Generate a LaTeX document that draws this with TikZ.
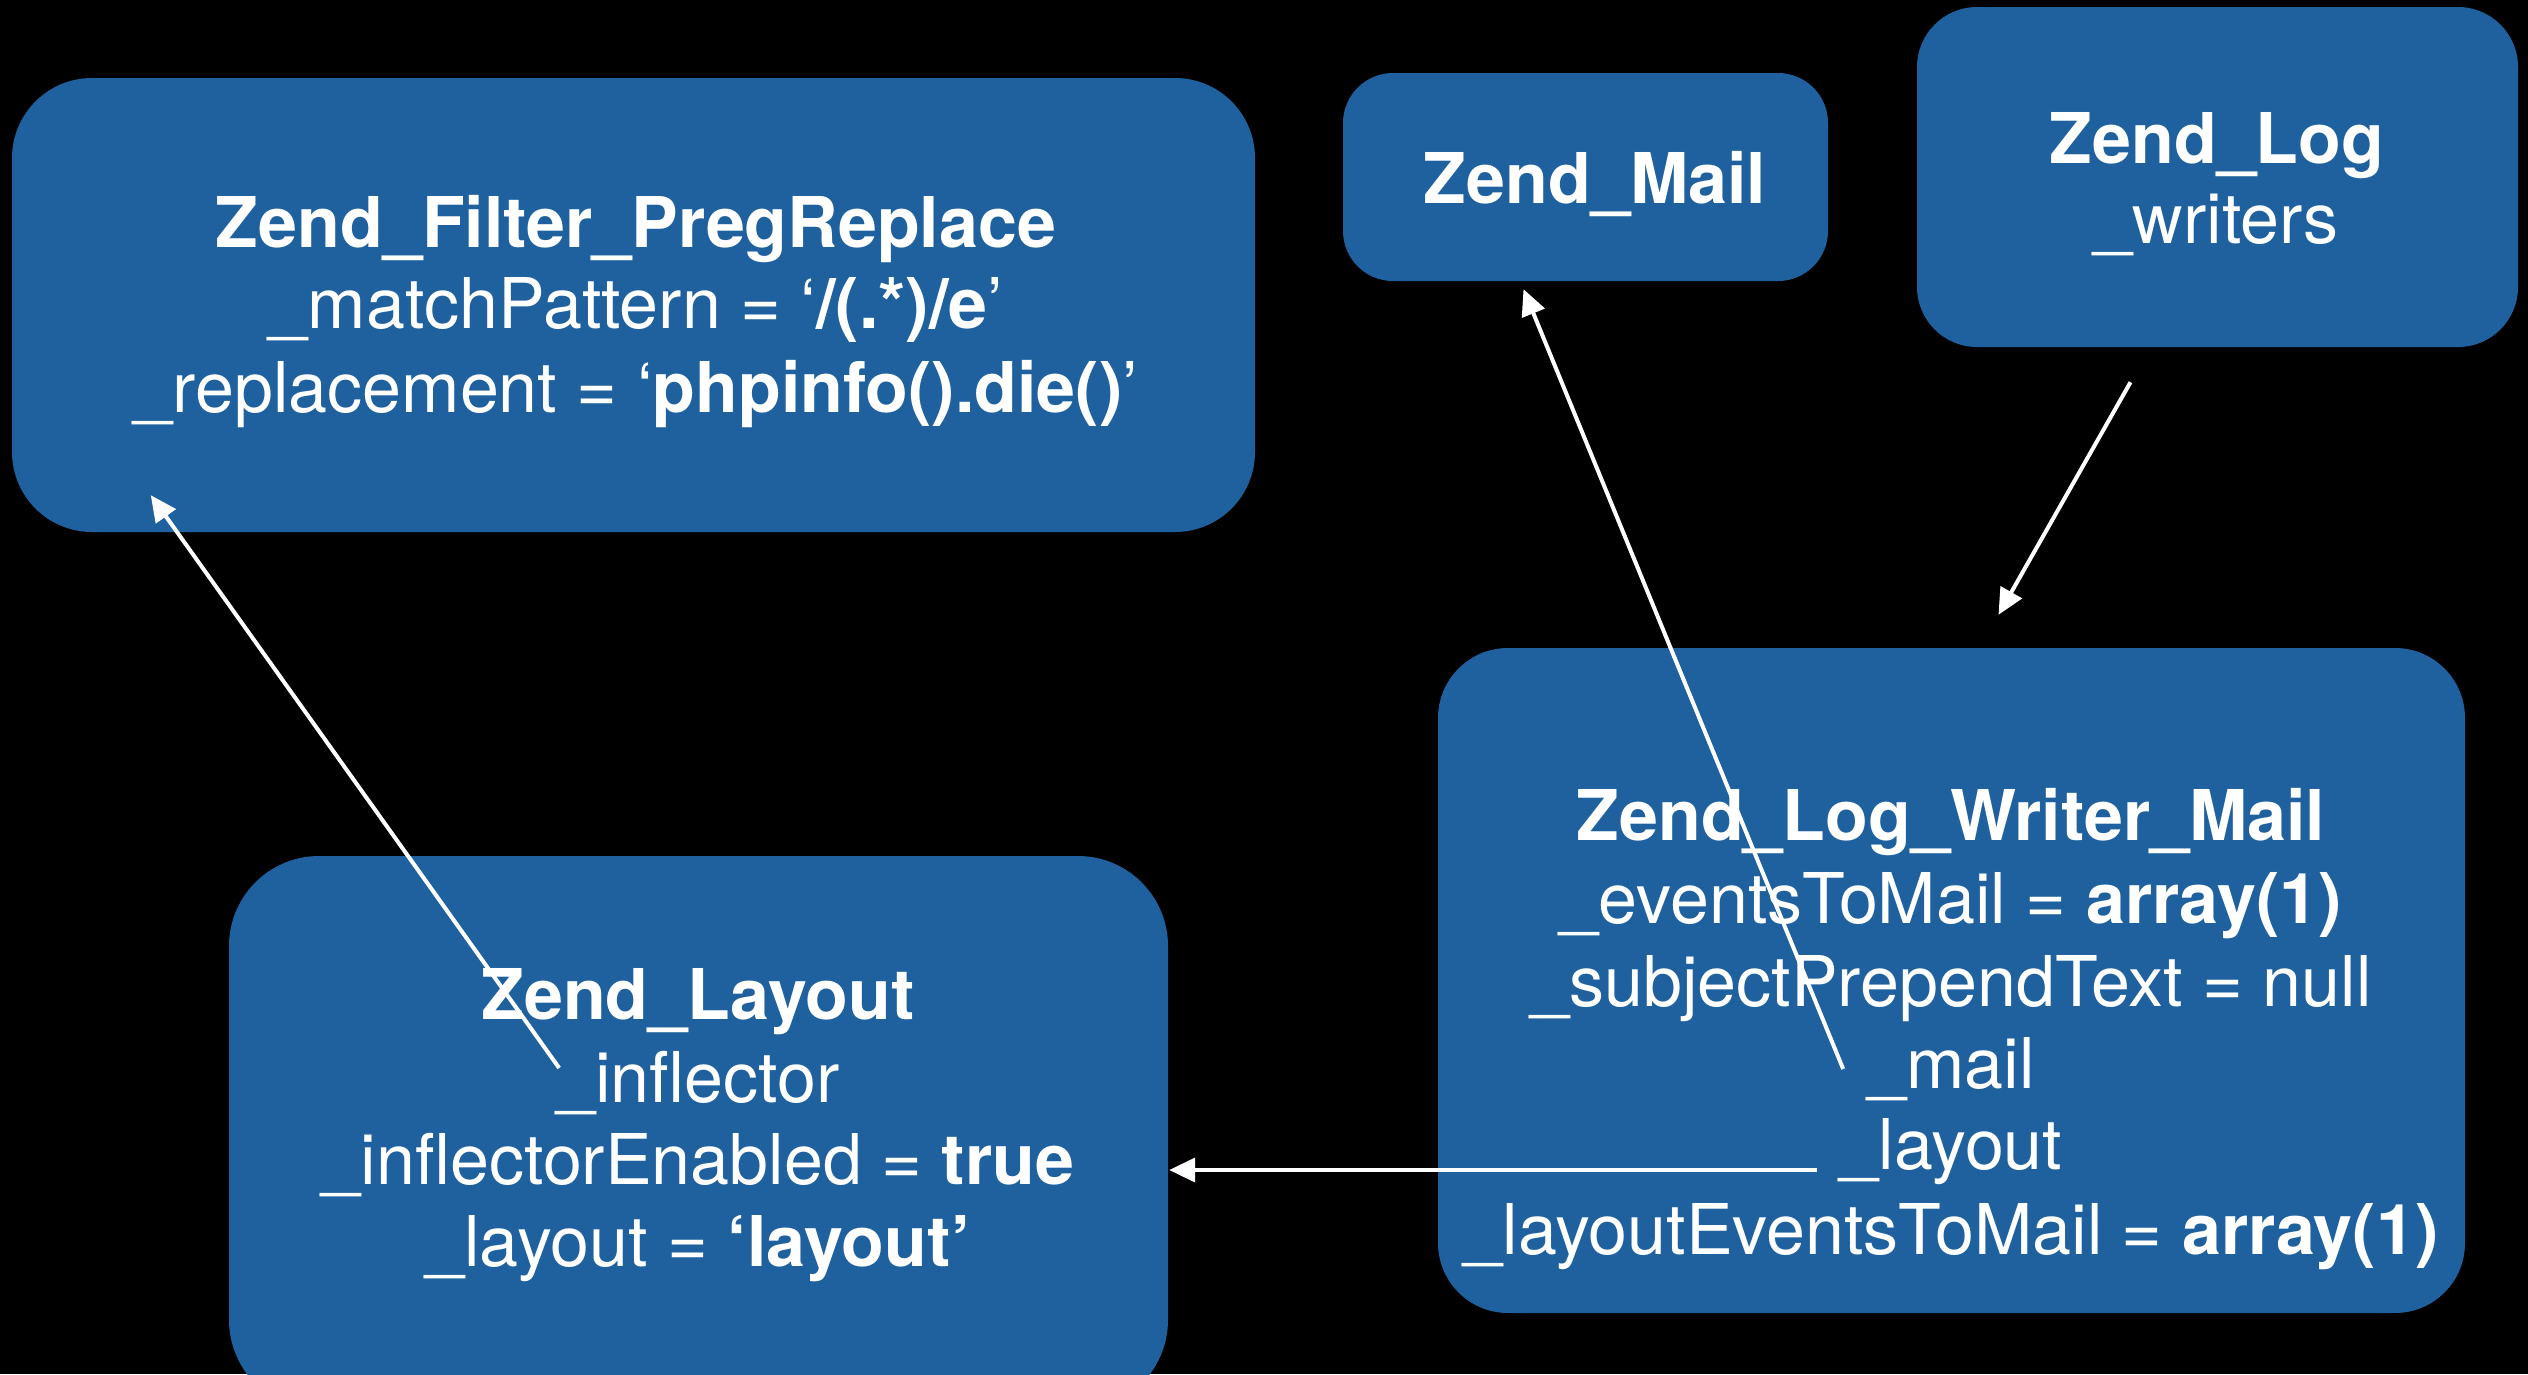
\documentclass[tikz,border=0pt]{standalone}
\usepackage{fontspec}
\setmainfont{TeX Gyre Heros}
\usetikzlibrary{arrows.meta,calc}
\definecolor{boxblue}{RGB}{30,97,158}
\begin{document}
\begin{tikzpicture}[x=1pt,y=-1pt,
  box/.style={fill=boxblue, draw=none, inner sep=0pt},
  txt/.style={text=white, inner sep=0pt, anchor=base,
    font=\fontsize{70}{84}\selectfont},
  ttl/.style={txt, font=\fontsize{70}{84}\selectfont\bfseries},
  conn/.style={draw=white, line width=4pt,
    -{Triangle[length=26pt,width=24pt]}}]
% canvas
\useasboundingbox (0,0) rectangle (2528,1374);
\fill[black] (0,0) rectangle (2528,1374);
\clip (0,0) rectangle (2528,1374);

% class boxes
\node[box, rounded corners=80pt, minimum width=1243pt, minimum height=454pt]
  (filter) at (633.5,305) {};
\node[box, rounded corners=50pt, minimum width=485pt, minimum height=208pt]
  (zmail) at (1585.5,177) {};
\node[box, rounded corners=60pt, minimum width=601pt, minimum height=340pt]
  (zlog) at (2217.5,177) {};
\node[box, rounded corners=70pt, minimum width=1027pt, minimum height=665pt]
  (wm) at (1951.5,980.5) {};
\node[box, rounded corners=90pt, minimum width=939pt, minimum height=554pt]
  (layout) at (698.5,1133) {};

% Zend_Filter_PregReplace
\node[ttl] (filter-t) at (636,247) {Zend\_Filter\_PregReplace};
\node[txt] (filter-a1) at (636,328) {\_matchPattern = ‘\textbf{/(.*)/e}’};
\node[txt] (filter-a2) at (636,412) {\_replacement = ‘\textbf{phpinfo().die()}’};

% Zend_Mail
\node[ttl] (zmail-t) at (1595,203) {Zend\_Mail};

% Zend_Log
\node[ttl] (zlog-t) at (2217,163) {Zend\_Log};
\node[txt] (zlog-a1) at (2216,243) {\_writers};

% Zend_Log_Writer_Mail
\node[ttl] (wm-t) at (1951,840) {Zend\_Log\_Writer\_Mail};
\node[txt] (wm-a1) at (1951,923) {\_eventsToMail = \textbf{array(1)}};
\node[txt] (wm-a2) at (1951,1006) {\_subjectPrependText = null};
\node[txt] (wm-mail) at (1951,1088) {\_mail};
\node[txt] (wm-layout) at (1951,1169) {\_layout};
\node[txt] (wm-a5) at (1951,1254) {\_layoutEventsToMail = \textbf{array(1)}};

% Zend_Layout
\node[ttl] (layout-t) at (698,1019) {Zend\_Layout};
\node[txt] (layout-infl) at (698,1102) {\_inflector};
\node[txt] (layout-a2) at (698,1184) {\_inflectorEnabled = \textbf{true}};
\node[txt] (layout-a3) at (698,1266) {\_layout = \textbf{‘layout’}};

% entry point of the _layout reference on the Zend_Layout box
\coordinate (layout-in) at (layout.east |- wm-layout.base);

% references between objects
\draw[conn] ($(wm-mail.base west)+(-24,-19)$) -- ($(zmail.south)+(-62,8)$);
\draw[conn] ($(zlog.south)+(-87,35)$) -- ($(wm.north)+(47,-33)$);
\draw[conn] ($(wm-layout.base west)+(-23,1)$) -- ($(layout-in)+(1,1)$);
\draw[conn] ($(layout-infl.base west)+(3,-34)$) -- ($(filter.south west)+(139,-37)$);
\end{tikzpicture}
\end{document}
